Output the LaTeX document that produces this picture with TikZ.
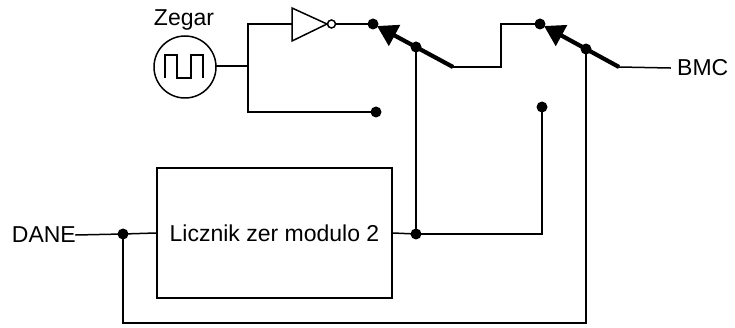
\documentclass[tikz,border=0pt]{standalone}
\usepackage{fontspec}
\setmainfont{Liberation Sans}
\usetikzlibrary{arrows.meta}
\begin{document}
\begin{tikzpicture}[x=1pt,y=-1pt,
  wire/.style={line width=1.5pt, line cap=rect},
  arm/.style={line width=4.2pt},
  lbl/.style={font=\fontsize{23}{26}\selectfont, inner sep=0pt},
  dotc/.style={circle, fill=black, inner sep=0pt, minimum size=11pt},
  counter/.style={draw, line width=1.5pt, minimum width=235pt, minimum height=130pt, font=\fontsize{23}{26}\selectfont},
  clk/.style={circle, draw, line width=1.5pt, minimum size=62pt, inner sep=0pt}]
\useasboundingbox (0,0) rectangle (735,328);
% clock
\node[clk] (clock) at (185,67) {};
\node[lbl] (zegar) at (184,20) {Zegar};
\draw[line width=1.5pt] (165,78) -- (165,55) -- (177,55) -- (177,78) -- (191,78) -- (191,55) -- (203,55) -- (203,78);
\coordinate (j0) at (248,66);
\coordinate (j0t) at (248,24);
\coordinate (j0b) at (248,112);
\draw[wire] (clock.east |- j0) -- (j0);
\draw[wire] (j0t) -- (j0b);
% inverter
\coordinate (invin) at (292,24);
\draw[line width=1.5pt, line join=miter] (292,8) -- (327,24) -- (292,41) -- cycle;
\node[circle, draw, line width=1.5pt, minimum size=8pt, inner sep=0pt] (bub) at (331.5,24) {};
\draw[wire] (j0t) -- (invin);
% switch 1 contacts
\node[dotc] (c1a) at (373,24) {};
\node[dotc] (c1b) at (376,112) {};
\draw[wire] (bub.east) -- (c1a);
\draw[wire] (j0b) -- (c1b);
\node[dotc] (p1) at (416,47) {};
\coordinate (a1) at (453,67);
\coordinate (t1) at (377,26);
\draw[arm, -{Triangle[length=20pt,width=23pt]}] (a1) -- (t1);
% switch 2
\node[dotc] (c2a) at (540,24) {};
\node[dotc] (c2b) at (542,107) {};
\node[dotc] (p2) at (586,49) {};
\coordinate (a2) at (619,67);
\coordinate (t2) at (544,26);
\draw[arm, -{Triangle[length=20pt,width=23pt]}] (a2) -- (t2);
\draw[wire] (a1) -- (501,67) -- (501,24) -- (c2a);
\node[lbl, anchor=west] (bmc) at (677,68) {BMC};
\draw[wire] (a2) -- (bmc.west -| 670,0) ;
% counter
\node[lbl, anchor=east] (dane) at (76,235) {DANE};
\node[counter] (cnt) at (274.5,233) {Licznik zer modulo 2};
\node[dotc] (jd) at (123,234) {};
\node[dotc] (j2) at (416,234) {};
\draw[wire] (dane.east) -- (jd) -- (cnt.west);
\draw[wire] (cnt.east) -- (j2);
\draw[wire] (p1) -- (j2);
\draw[wire] (c2b) -- (542,234) -- (j2);
\draw[wire] (p2) -- (586,323) -- (123,323) -- (jd);
\end{tikzpicture}
\end{document}
